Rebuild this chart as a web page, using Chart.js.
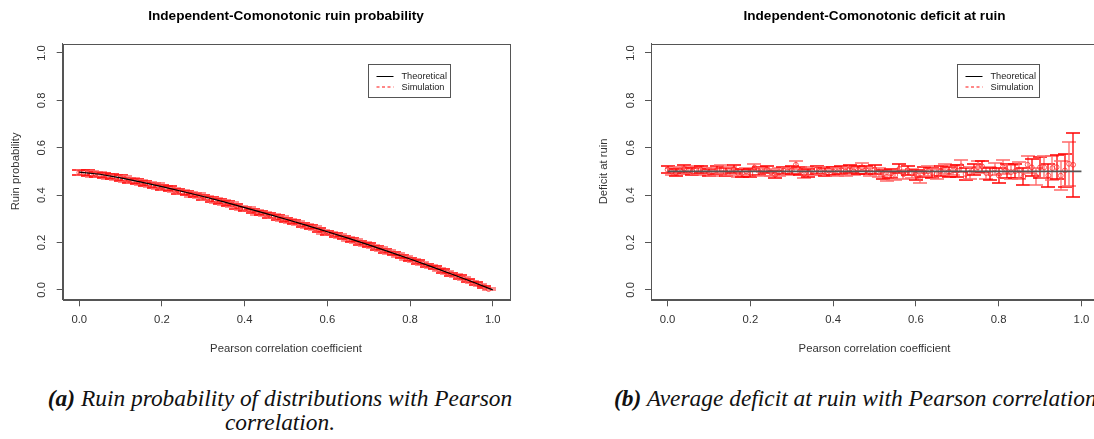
<!DOCTYPE html>
<html><head><meta charset="utf-8">
<script src="https://cdn.jsdelivr.net/npm/chart.js@4.4.0/dist/chart.umd.min.js"></script>
<style>
html,body{margin:0;padding:0;background:#fff;width:1094px;height:439px;overflow:hidden;position:relative}
#w1{position:absolute;left:0;top:0;width:547px;height:365px}
#w2{position:absolute;left:547px;top:0;width:600px;height:365px}
.cap{position:absolute;font-family:"Liberation Serif","Times New Roman",serif;font-style:italic;font-size:23.4px;line-height:24px;color:#111;white-space:nowrap}
</style></head><body>
<div id="w1"><canvas id="c1" width="547" height="365"></canvas></div>
<div id="w2"><canvas id="c2" width="600" height="365"></canvas></div>
<div class="cap" id="capA" style="left:0;top:386px;width:560px;text-align:center"><b>(a)</b> Ruin probability of distributions with Pearson<br>correlation.</div>
<div class="cap" id="capB" style="left:614px;top:386px"><b>(b)</b> Average deficit at ruin with Pearson correlation.</div>
<script>
// ---------- data ----------
const xTicks = [0, 0.2, 0.4, 0.6, 0.8, 1.0];
const xTickLabels = ["0.0", "0.2", "0.4", "0.6", "0.8", "1.0"];
const yTicks = [0, 0.2, 0.4, 0.6, 0.8, 1.0];
const yTickLabels = ["0.0", "0.2", "0.4", "0.6", "0.8", "1.0"];
const seriesNames = ["Theoretical", "Simulation"];

const leftTheoX = [0,0.05,0.1,0.15,0.2,0.25,0.3,0.35,0.4,0.45,0.5,0.55,0.6,0.65,0.7,0.75,0.8,0.85,0.9,0.95,1.0];
const leftTheoY = [0.497,0.488,0.473,0.455,0.436,0.415,0.394,0.371,0.347,0.323,0.298,0.272,0.245,0.218,0.190,0.160,0.130,0.099,0.067,0.034,0.0];

const leftSimX = [0,0.01,0.02,0.03,0.04,0.05,0.06,0.07,0.08,0.09,0.1,0.11,0.12,0.13,0.14,0.15,0.16,0.17,0.18,0.19,
0.2,0.21,0.22,0.23,0.24,0.25,0.26,0.27,0.28,0.29,0.3,0.31,0.32,0.33,0.34,0.35,0.36,0.37,0.38,0.39,
0.4,0.41,0.42,0.43,0.44,0.45,0.46,0.47,0.48,0.49,0.5,0.51,0.52,0.53,0.54,0.55,0.56,0.57,0.58,0.59,
0.6,0.61,0.62,0.63,0.64,0.65,0.66,0.67,0.68,0.69,0.7,0.71,0.72,0.73,0.74,0.75,0.76,0.77,0.78,0.79,
0.8,0.81,0.82,0.83,0.84,0.85,0.86,0.87,0.88,0.89,0.9,0.91,0.92,0.93,0.94,0.95,0.96,0.97,0.98,0.99];
const leftSimY = [0.495,0.494,0.493,0.489,0.488,0.486,0.484,0.480,0.477,0.475,0.472,0.468,0.463,0.461,0.456,0.453,0.450,0.445,0.442,0.438,
0.433,0.430,0.427,0.421,0.416,0.413,0.409,0.403,0.400,0.397,0.391,0.388,0.382,0.378,0.374,0.369,0.364,0.360,0.352,0.346,
0.342,0.340,0.334,0.327,0.325,0.320,0.314,0.312,0.305,0.301,0.295,0.291,0.286,0.281,0.275,0.270,0.265,0.260,0.253,0.245,
0.241,0.238,0.231,0.227,0.221,0.215,0.211,0.205,0.199,0.194,0.188,0.183,0.176,0.171,0.165,0.159,0.153,0.147,0.141,0.135,
0.129,0.123,0.117,0.111,0.104,0.098,0.093,0.086,0.079,0.073,0.066,0.060,0.054,0.047,0.040,0.034,0.027,0.020,0.011,0.003];
const leftSimErr = [0.011,0.011,0.011,0.011,0.011,0.011,0.011,0.011,0.011,0.011,0.011,0.011,0.011,0.011,0.011,0.011,0.011,0.011,0.011,0.011,
0.010,0.010,0.010,0.010,0.010,0.010,0.010,0.010,0.010,0.010,0.010,0.010,0.010,0.010,0.010,0.010,0.010,0.010,0.010,0.010,
0.009,0.009,0.009,0.009,0.009,0.009,0.009,0.009,0.009,0.009,0.009,0.009,0.009,0.009,0.009,0.009,0.009,0.009,0.009,0.009,
0.008,0.008,0.008,0.008,0.008,0.008,0.008,0.008,0.008,0.008,0.008,0.008,0.008,0.008,0.008,0.008,0.008,0.008,0.008,0.008,
0.007,0.007,0.007,0.007,0.007,0.007,0.007,0.007,0.007,0.007,0.007,0.007,0.007,0.007,0.007,0.005,0.005,0.005,0.005,0.004];

const rightTheoX = [0, 1.0];
const rightTheoY = [0.5, 0.5];

const rightSimX = [0,0.01,0.02,0.03,0.04,0.05,0.06,0.07,0.08,0.09,0.1,0.11,0.12,0.13,0.14,0.15,0.16,0.17,0.18,0.19,
0.2,0.21,0.22,0.23,0.24,0.25,0.26,0.27,0.28,0.29,0.3,0.31,0.32,0.33,0.34,0.35,0.36,0.37,0.38,0.39,
0.4,0.41,0.42,0.43,0.44,0.45,0.46,0.47,0.48,0.49,0.5,0.51,0.52,0.53,0.54,0.55,0.56,0.57,0.58,0.59,
0.6,0.61,0.62,0.63,0.64,0.65,0.66,0.67,0.68,0.69,0.7,0.71,0.72,0.73,0.74,0.75,0.76,0.77,0.78,0.79,
0.8,0.81,0.82,0.83,0.84,0.85,0.86,0.87,0.88,0.89,0.9,0.91,0.92,0.93,0.94,0.95,0.96,0.97,0.98];
const rightSimY = [0.507,0.499,0.494,0.504,0.510,0.503,0.500,0.506,0.508,0.501,0.495,0.498,0.507,0.510,0.497,0.502,0.509,0.494,0.493,0.500,
0.493,0.516,0.502,0.497,0.508,0.495,0.487,0.497,0.503,0.499,0.505,0.528,0.500,0.490,0.495,0.503,0.507,0.500,0.498,0.503,
0.500,0.497,0.505,0.499,0.510,0.500,0.506,0.517,0.505,0.496,0.508,0.497,0.489,0.477,0.492,0.484,0.511,0.488,0.505,0.492,
0.486,0.473,0.497,0.501,0.494,0.490,0.502,0.509,0.498,0.505,0.503,0.522,0.489,0.493,0.508,0.518,0.521,0.493,0.490,0.511,
0.483,0.518,0.501,0.497,0.501,0.504,0.479,0.528,0.517,0.480,0.517,0.517,0.483,0.514,0.518,0.482,0.504,0.532,0.528];
const rightSimErr = [0.015,0.015,0.015,0.015,0.015,0.015,0.015,0.015,0.015,0.015,
0.016,0.016,0.016,0.016,0.016,0.016,0.016,0.016,0.016,0.016,0.016,0.016,0.016,0.016,0.016,0.016,0.016,0.016,0.016,0.016,
0.017,0.017,0.017,0.017,0.017,0.017,0.017,0.017,0.017,0.017,0.017,0.017,0.017,0.017,0.017,0.017,0.017,0.017,0.017,0.017,
0.019,0.019,0.019,0.019,0.019,0.019,0.019,0.019,0.019,0.019,
0.021,0.021,0.021,0.021,0.021,0.021,0.021,0.021,0.021,0.021,
0.025,0.025,0.025,0.025,0.025,0.025,0.025,0.025,0.025,0.025,
0.030,0.030,0.030,0.030,0.030,0.036,0.036,0.036,0.036,0.036,
0.045,0.046,0.048,0.050,0.052,0.060,0.070,0.094,0.134];

// ---------- drawing ----------
const SANS = '"Liberation Sans", Arial, sans-serif';
const RED = '#ff0000';
const PINK = '#ff6a6a';

function pts(xs, ys){ return xs.map((x,i)=>({x:x, y:ys[i]})); }

const errPlugin = {
  id: 'errbars',
  beforeDatasetsDraw(chart){
    const o = chart.options.plugins.errbars;
    const xs = chart.scales.x, ys = chart.scales.y, ctx = chart.ctx;
    ctx.save();
    ctx.lineWidth = 1.3;
    ctx.setLineDash([]);
    for (let i = 0; i < o.x.length; i++){
      const px = Math.round(xs.getPixelForValue(o.x[i]));
      const y1 = Math.round(ys.getPixelForValue(o.y[i] - o.e[i]));
      const y2 = Math.round(ys.getPixelForValue(o.y[i] + o.e[i]));
      ctx.strokeStyle = (i % 2) ? PINK : RED;
      ctx.beginPath();
      ctx.moveTo(px, y1); ctx.lineTo(px, y2);
      ctx.moveTo(px - 7, y1); ctx.lineTo(px + 7, y1);
      ctx.moveTo(px - 7, y2); ctx.lineTo(px + 7, y2);
      ctx.stroke();
    }
    ctx.restore();
  }
};

const decoPlugin = {
  id: 'deco',
  afterDraw(chart){
    const o = chart.options.plugins.deco;
    const a = chart.chartArea, ctx = chart.ctx, ys = chart.scales.y;
    ctx.save();
    ctx.setLineDash([]);
    // box
    ctx.strokeStyle = '#555'; ctx.lineWidth = 1;
    ctx.strokeRect(Math.round(a.left)+0.5, Math.round(a.top)+0.5, Math.round(a.right-a.left), Math.round(a.bottom-a.top));
    // y tick labels (rotated)
    ctx.fillStyle = '#333';
    ctx.font = '11.3px ' + SANS;
    ctx.textAlign = 'center'; ctx.textBaseline = 'middle';
    yTicks.forEach((v,i)=>{
      const py = ys.getPixelForValue(v);
      ctx.save(); ctx.translate(a.left - 20.5, py); ctx.rotate(-Math.PI/2);
      ctx.fillText(yTickLabels[i], 0, 0); ctx.restore();
    });
    // title
    const cx = (a.left + a.right)/2;
    ctx.fillStyle = '#000';
    ctx.font = 'bold 13.6px ' + SANS;
    ctx.fillText(o.title, cx, 16);
    // axis titles
    ctx.fillStyle = '#333';
    ctx.font = '11.3px ' + SANS;
    ctx.fillText(o.xTitle, cx, 349);
    ctx.save(); ctx.translate(a.left - 47, (a.top + a.bottom)/2); ctx.rotate(-Math.PI/2);
    ctx.fillText(o.yTitle, 0, 0); ctx.restore();
    // legend
    const lw = 82, lh = 33;
    const lx = Math.round(a.right - 59 - lw) + 0.5, ly = 64.5;
    ctx.strokeStyle = '#555'; ctx.lineWidth = 1;
    ctx.strokeRect(lx, ly, lw, lh);
    ctx.strokeStyle = '#000';
    ctx.beginPath(); ctx.moveTo(lx + 8, 76.5); ctx.lineTo(lx + 25, 76.5); ctx.stroke();
    ctx.strokeStyle = '#ff1010'; ctx.lineWidth = 1.2; ctx.setLineDash([3,2.5]);
    ctx.beginPath(); ctx.moveTo(lx + 8, 87); ctx.lineTo(lx + 25, 87); ctx.stroke();
    ctx.setLineDash([]);
    ctx.fillStyle = '#222'; ctx.font = '9.2px ' + SANS; ctx.textAlign = 'left';
    ctx.fillText(seriesNames[0], lx + 33, 76.5);
    ctx.fillText(seriesNames[1], lx + 33, 87.5);
    ctx.restore();
  }
};

function makeChart(id, simX, simY, simErr, theoX, theoY, yAxisWidth, rightPad, title, yTitle, theoColor, theoWidth){
  return new Chart(document.getElementById(id), {
    type: 'scatter',
    data: {
      datasets: [
        { label: seriesNames[0], data: pts(theoX, theoY), showLine: true,
          pointRadius: 0, borderColor: theoColor, backgroundColor: theoColor, borderWidth: theoWidth, tension: 0, order: 1 },
        { label: seriesNames[1], data: pts(simX, simY), showLine: false,
          pointStyle: 'circle', pointRadius: 2.4, pointBorderWidth: 1,
          borderColor: 'rgba(255,0,0,0.6)', backgroundColor: 'rgba(0,0,0,0)',
          pointBorderColor: 'rgba(255,30,30,0.7)', pointBackgroundColor: 'rgba(0,0,0,0)', order: 2 }
      ]
    },
    options: {
      responsive: false, animation: false, devicePixelRatio: 1,
      layout: { padding: { top: 43.5, right: rightPad, left: 0, bottom: 0 } },
      plugins: {
        legend: { display: false }, title: { display: false }, tooltip: { enabled: false },
        errbars: { x: simX, y: simY, e: simErr },
        deco: { title: title, xTitle: 'Pearson correlation coefficient', yTitle: yTitle }
      },
      scales: {
        x: { type: 'linear', min: -0.04, max: 1.04,
          afterBuildTicks: s => { s.ticks = xTicks.map(v => ({ value: v })); },
          afterFit: s => { s.height = 65.7; },
          ticks: { callback: (v, i) => xTickLabels[i], color: '#333', font: { size: 11.3, family: SANS }, padding: 7, maxRotation: 0, autoSkip: false },
          grid: { drawOnChartArea: false, drawTicks: true, tickLength: 7, color: '#555' },
          border: { display: true, color: '#555' } },
        y: { type: 'linear', min: -0.04, max: 1.04,
          afterBuildTicks: s => { s.ticks = yTicks.map(v => ({ value: v })); },
          afterFit: s => { s.width = yAxisWidth; },
          ticks: { display: false },
          grid: { drawOnChartArea: false, drawTicks: true, tickLength: 6, color: '#555' },
          border: { display: true, color: '#555' } }
      }
    },
    plugins: [errPlugin, decoPlugin]
  });
}

makeChart('c1', leftSimX, leftSimY, leftSimErr, leftTheoX, leftTheoY, 62.7, 37.7,
  'Independent-Comonotonic ruin probability', 'Ruin probability', '#000', 1.2);
makeChart('c2', rightSimX, rightSimY, rightSimErr, rightTheoX, rightTheoY, 104, 49,
  'Independent-Comonotonic deficit at ruin', 'Deficit at ruin', '#555', 1.6);
</script>
</body></html>
